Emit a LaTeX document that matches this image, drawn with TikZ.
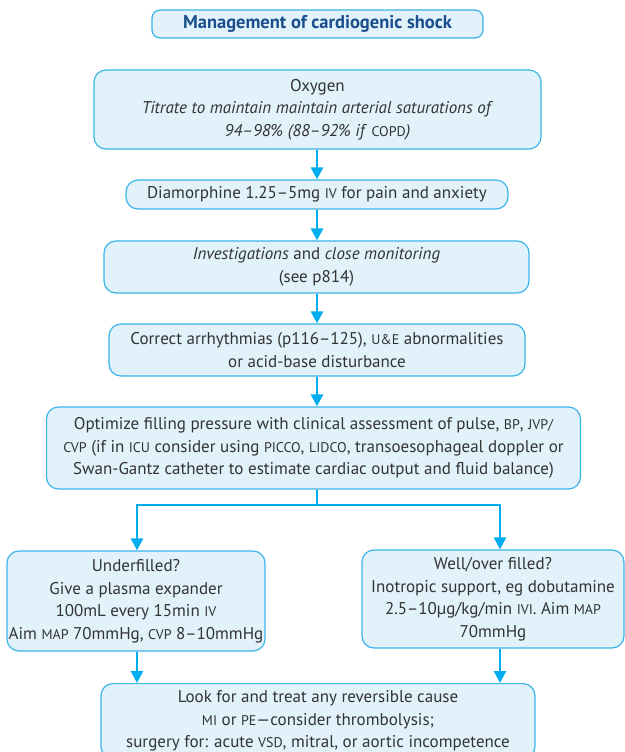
\documentclass[tikz,border=0pt]{standalone}
\usepackage{fontspec}
\setmainfont{PT Sans}
\usetikzlibrary{positioning, arrows.meta}

\definecolor{boxline}{HTML}{3BB4EA}
\definecolor{boxfill}{HTML}{E1F2FB}
\definecolor{flowarrow}{HTML}{00AEEF}
\definecolor{titleblue}{HTML}{1B4F8C}
\definecolor{bodytext}{HTML}{333333}

\newcommand{\smcap}[1]{{\fontsize{14bp}{22.5bp}\selectfont #1}}

\begin{document}
\begin{tikzpicture}[
    x=1bp, y=-1bp,
    flow box/.style={draw=boxline, fill=boxfill, line width=1.2bp, rounded corners=12bp,
        align=center, text=bodytext, inner sep=0pt,
        font=\fontsize{17bp}{22.5bp}\selectfont},
    title box/.style={flow box, rounded corners=8bp, text=titleblue,
        font=\fontsize{18.5bp}{20bp}\selectfont\bfseries},
    flow arrow/.style={flowarrow, line width=2.8bp, -{Triangle[width=12bp,length=12bp]}},
    flow line/.style={flowarrow, line width=2.8bp}
]

\useasboundingbox (0,0) rectangle (625,752);

% --- 1. Title ---
\node[title box, minimum width=331bp, minimum height=28bp] (title) at (317.5,24) {Management of cardiogenic shock};

% --- 2. Main column ---
\node[flow box, minimum width=447bp, minimum height=79bp] (oxygen) at (317.5,109.5)
    {Oxygen\\ \textit{Titrate to maintain maintain arterial saturations of}\\
     \textit{94–98\% (88–92\% if }\smcap{COPD}\textit{)}};

\node[flow box, minimum width=382bp, minimum height=29bp] (diamorph) at (317,194.5)
    {Diamorphine 1.25–5mg \smcap{IV} for pain and anxiety};

\node[flow box, minimum width=425bp, minimum height=52bp] (invest) at (316.5,267)
    {\textit{Investigations} and \textit{close monitoring}\\ (see p814)};

\node[flow box, minimum width=416bp, minimum height=52bp] (arrhyth) at (317,350)
    {Correct arrhythmias (p116–125), \smcap{U\&E} abnormalities\\ or acid-base disturbance};

\node[flow box, minimum width=534bp, minimum height=82bp] (filling) at (313.5,448)
    {Optimize filling pressure with clinical assessment of pulse, \smcap{BP}, \smcap{JVP/}\\
     \smcap{CVP} (if in \smcap{ICU} consider using \smcap{PICCO}, \smcap{LIDCO}, transoesophageal doppler or\\
     Swan-Gantz catheter to estimate cardiac output and fluid balance)};

% --- 3. Branches ---
\node[flow box, minimum width=258bp, minimum height=100bp] (under) at (136,601)
    {Underfilled?\\ Give a plasma expander\\ 100mL every 15min \smcap{IV}\\
     Aim \smcap{MAP} 70mmHg, \smcap{CVP} 8–10mmHg};

\node[flow box, minimum width=262bp, minimum height=98bp] (over) at (493,599)
    {Well/over filled?\\ Inotropic support, eg dobutamine\\
     2.5–10µg/kg/min \smcap{IVI}. Aim \smcap{MAP}\\ 70mmHg};

\node[flow box, minimum width=434bp, inner ysep=7bp, anchor=north] (cause) at (318,683)
    {Look for and treat any reversible cause\\
     \smcap{MI} or \smcap{PE}—consider thrombolysis;\\
     surgery for: acute \smcap{VSD}, mitral, or aortic incompetence};

% --- 4. Connectors ---
\draw[flow arrow] (oxygen.south -| diamorph.north) -- (diamorph.north);
\draw[flow arrow] (diamorph.south) -- (diamorph.south |- invest.north);
\draw[flow arrow] (diamorph.south |- invest.south) -- (diamorph.south |- arrhyth.north);
\draw[flow arrow] (arrhyth.south) -- (arrhyth.south |- filling.north);

\coordinate (jL) at (137,505);
\coordinate (jR) at (500,505);

\draw[flow line] (arrhyth.south |- filling.south) -- (arrhyth.south |- jL);
\draw[flow line, line cap=rect] (jL) -- (jR);
\draw[flow arrow] (jL) -- (jL |- under.north);
\draw[flow arrow] (jR) -- (jR |- over.north);
\draw[flow arrow] (jL |- under.south) -- (jL |- cause.north);
\draw[flow arrow] (jR |- over.south) -- (jR |- cause.north);

\end{tikzpicture}
\end{document}
